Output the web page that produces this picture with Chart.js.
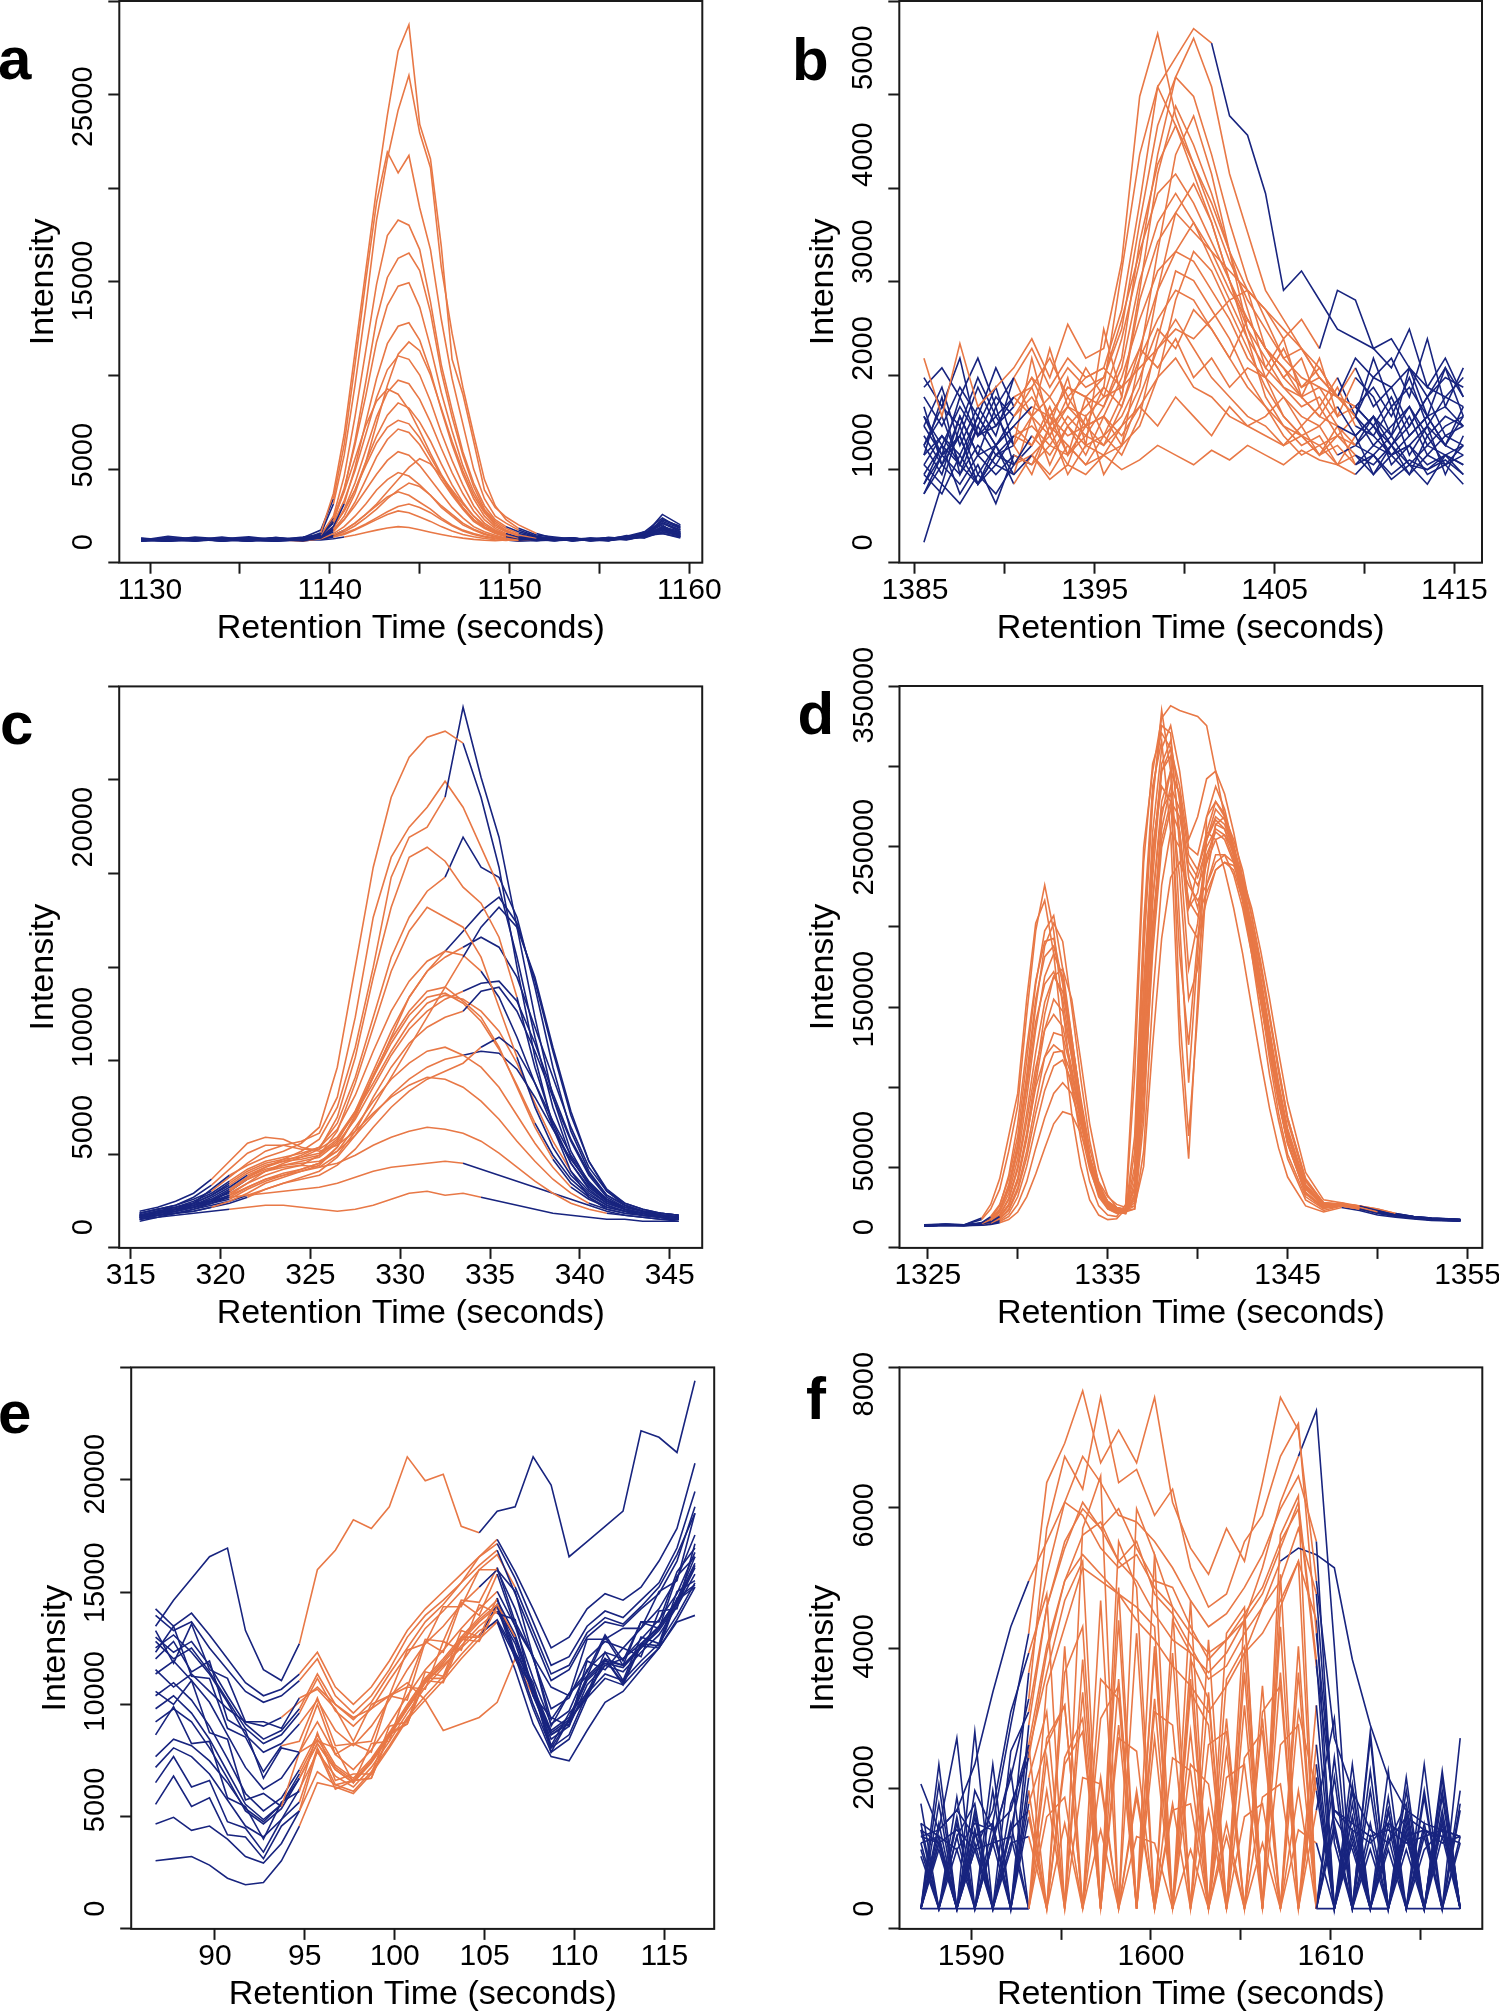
<!DOCTYPE html>
<html><head><meta charset="utf-8">
<script src="https://cdn.jsdelivr.net/npm/chart.js@4/dist/chart.umd.min.js"></script>
<style>
html,body{margin:0;padding:0;background:#fff;overflow:hidden;}
body{width:1499px;height:2014px;position:relative;}
canvas{position:absolute;}
.lbl{position:absolute;font-family:"Liberation Sans",Arial,sans-serif;font-weight:bold;font-size:60px;line-height:60px;color:#000;z-index:5;}
</style></head><body>
<div class="lbl" style="left:-2px;top:28.7px">a</div>
<div class="lbl" style="left:792px;top:30.2px">b</div>
<div class="lbl" style="left:0px;top:694.2px">c</div>
<div class="lbl" style="left:797.6px;top:684.2px">d</div>
<div class="lbl" style="left:-2px;top:1383.2px">e</div>
<div class="lbl" style="left:806px;top:1368.7px">f</div>
<script>
// ---------------- DATA ----------------
const X_TITLE = 'Retention Time (seconds)';
const Y_TITLE = 'Intensity';

// Panel a
const A_X = [1129.5,1131,1132.5,1134,1135.5,1137,1138.5,1139.5,1140.2,1140.8,1141.4,1142,1142.6,1143.2,1143.8,1144.4,1145,1145.6,1146.2,1146.8,1147.4,1148,1148.6,1149.2,1149.8,1150.5,1151.5,1152.5,1153.5,1154.5,1155.5,1156.5,1157.5,1158.5,1159.5];
const A_TRACES = [
[120,340,180,150,250,100,160,550,2800,6200,10900,15600,20300,24500,28200,29700,24000,22000,17000,10500,8500,5800,3000,2000,1450,1000,500,220,150,200,240,280,380,700,500],
[200,150,260,90,170,230,120,480,2200,5000,9000,13500,18500,22000,24800,26800,23500,21500,15800,12000,8900,6200,3600,2100,1300,800,420,300,180,90,210,350,260,800,450],
[90,220,140,300,110,190,260,700,2500,5600,10200,15000,19500,22400,21200,22200,19200,16800,12800,9400,6800,4200,2500,1500,1100,700,350,220,260,150,90,300,520,1200,800],
[250,120,300,180,90,260,150,420,1500,3800,7200,11000,14800,17600,18500,18200,16800,13800,10200,7600,5200,3400,2100,1300,900,600,320,180,90,240,160,380,300,600,400],
[130,260,80,200,310,150,90,350,1200,3000,5800,9200,12800,15200,16300,16600,15600,13200,9800,7200,5000,3200,1900,1200,800,500,300,150,240,120,280,200,450,1100,700],
[180,90,240,130,200,80,260,400,1400,3100,5600,8400,11500,13600,14700,14900,13500,11200,8600,6400,4400,2900,1800,1100,700,420,250,180,100,220,150,260,500,800,350],
[60,180,120,260,90,210,140,300,900,2200,4300,6900,9400,11400,12400,12600,11600,9800,7600,5600,3900,2500,1500,900,600,380,200,140,210,100,180,300,280,1300,900],
[220,110,190,80,240,130,300,450,1100,2400,4100,6200,8300,9900,10700,10500,9600,8100,6300,4700,3300,2100,1300,800,500,300,180,240,120,200,90,350,600,500,300],
[100,240,150,200,70,280,90,250,800,1900,3400,5300,7200,8600,9300,9100,8200,6900,5400,4000,2800,1800,1100,700,450,280,150,90,200,130,250,180,400,1600,1000],
[160,70,210,120,180,100,220,350,900,1800,3000,4600,6100,7300,8000,7700,6900,5800,4500,3300,2300,1500,900,600,400,250,130,200,90,160,220,140,350,700,450],
[80,190,100,230,140,60,170,260,600,1300,2300,3600,4900,5900,6500,6300,5600,4600,3600,2700,1900,1200,800,500,320,200,100,160,230,90,140,260,300,900,600],
[200,130,80,170,90,230,120,300,700,1300,2100,3000,3900,4700,5200,5000,4400,3600,2800,2000,1400,900,600,400,250,150,210,100,170,240,110,200,380,500,250],
[110,60,180,90,200,150,80,200,500,900,1500,2200,3000,3600,4000,3800,3300,2700,2000,1500,1000,700,450,300,200,120,180,90,150,200,260,180,600,1400,800],
[170,220,100,140,70,190,130,250,400,700,1100,1600,2100,2600,2900,2700,2300,1900,1400,1000,700,500,350,250,150,100,160,220,110,140,90,240,300,800,500],
[90,150,230,70,160,110,200,180,300,450,700,1000,1300,1600,1800,1700,1450,1200,900,650,450,320,220,150,100,180,90,130,200,80,170,210,460,1000,300],
[140,80,120,200,100,60,150,130,200,300,420,560,700,820,900,850,720,580,450,330,240,170,120,90,140,70,110,180,90,150,120,300,250,600,350],
[150,90,200,110,180,260,140,320,900,1800,3000,4400,5700,6600,7000,6800,6000,4900,3800,2800,2000,1300,850,550,350,220,140,200,100,160,230,300,500,1100,700],
[90,200,130,170,240,100,190,280,700,1500,2800,4600,6800,9000,10800,11500,11000,9600,7700,5800,4100,2700,1700,1000,650,400,220,150,250,120,190,280,400,900,500],
[210,140,90,230,120,180,70,220,400,700,1100,1600,2200,2900,3600,4300,4800,4500,3800,3000,2200,1500,1000,650,420,260,150,230,110,200,140,250,420,1300,900],
[120,240,170,80,210,150,230,190,350,600,950,1400,1900,2500,3000,3400,3200,2700,2100,1600,1100,750,500,330,220,150,100,180,240,130,200,160,350,700,400],
[180,110,250,140,90,200,160,400,1300,2900,4800,6700,8100,8800,8500,7600,6400,5100,3900,2900,2000,1300,850,550,350,230,140,200,90,170,240,190,300,800,550],
[100,170,90,210,130,240,110,200,320,500,750,1050,1400,1750,2050,2200,2000,1700,1300,950,650,450,300,200,150,110,170,90,200,130,160,220,380,1100,600]
];
const A_START = [1139.5,1140.2,1140.2,1139.5,1140.2,1140.2,1140.8,1140.2,1140.2,1139.5,1140.2,1140.2,1137,1140.2,1140.2,1140.8,1140.2,1140.2,1140.8,1140.2,1139.5,1140.2];
const A_END = [1151.5,1150.5,1150.5,1149.8,1150.5,1151.5,1150.5,1149.8,1150.5,1150.5,1149.8,1150.5,1150.5,1151.5,1150.5,1149.8,1150.5,1151.5,1150.5,1149.8,1150.5,1150.5];
const A_XLAB = [1130,1140,1150,1160];
const A_YLAB = [0,5000,15000,25000];

// Panel b
const B_X = [1385.5,1386.5,1387.5,1388.5,1389.5,1390.5,1391.5,1392.5,1393.5,1394.5,1395.5,1396.5,1397.5,1398.5,1399.5,1400.5,1401.5,1402.5,1403.5,1404.5,1405.5,1406.5,1407.5,1408.5,1409.5,1410.5,1411.5,1412.5,1413.5,1414.5,1415.5];
const B_TRACES = [
[1900,1300,2050,1400,1600,1800,2100,1700,2250,1900,2000,2900,4600,5250,4400,3900,3400,2900,2500,2200,1900,1700,1600,1500,1300,1700,1900,1500,2100,1400,1800],
[1000,1400,1200,1700,1300,1500,1600,1900,1500,1700,1800,2400,3500,4700,5000,5300,5150,4400,4200,3600,2600,2800,2500,2200,2100,2000,1800,2200,1600,1900,1500],
[800,1100,900,1300,1000,1200,1400,1300,1600,1500,1700,2200,3300,4300,4800,5200,4700,3800,3200,2600,2300,2000,1800,1500,1400,1200,1000,1300,900,1100,1000],
[1200,900,1500,1100,1300,1000,1300,1500,1200,1400,1600,2800,4000,4700,4300,3800,3300,2700,2200,1900,1600,1400,1500,1200,1100,1300,1100,1400,1000,1200,1300],
[600,900,700,1000,800,1100,1200,1000,1300,1100,1400,1900,3100,3900,4300,3900,3500,3000,2600,2000,1700,1500,1300,1200,1000,900,1100,800,1000,900,700],
[1500,1200,1600,1300,1800,1400,1700,1500,1800,1600,1700,2300,3000,3600,3800,3500,3100,2700,2300,2000,1800,1600,1700,1500,1400,1600,1300,1700,1200,1500,1400],
[700,1000,800,600,900,800,1100,900,1200,1000,1100,1500,2500,3100,3400,3200,3000,2800,2600,2400,2200,2000,1700,1500,1300,1100,900,1000,800,900,1000],
[1100,800,1300,900,1000,1200,1000,1300,1100,1200,1300,1700,2300,2800,3000,2900,2600,2300,1900,1700,1500,1300,1200,1400,1100,1300,1000,1200,1500,1100,1200],
[500,800,600,900,700,900,800,1000,900,1100,1000,1400,1900,2300,2600,2500,2200,1900,1600,1400,1200,1100,1000,1100,900,800,1000,700,900,800,600],
[900,1100,800,1300,1000,1300,1500,1200,1400,1300,1500,1600,1800,2000,2200,2100,2300,2500,2600,2400,2100,2300,2000,2600,2500,2000,2100,1800,1600,1500,1700],
[1300,1000,1400,1100,1200,1500,1300,1100,1400,1200,1300,1100,1400,1200,1500,1300,1100,1400,1200,1300,1500,1200,1400,1100,1300,1000,1200,1400,1100,1300,1200],
[700,500,900,600,800,700,900,650,800,700,900,750,850,1000,900,800,950,850,1000,900,800,950,850,800,700,900,650,800,750,850,700],
[1600,1800,1500,1900,1400,1700,2000,1600,1900,1700,1800,1600,2000,1800,2100,1700,1900,1600,1800,1700,2000,1600,1800,1500,1900,1700,1600,1800,1500,1700,1600],
[0,600,400,700,500,800,900,700,1000,800,900,1000,1500,2000,2300,2000,1700,1500,1300,1200,1000,1100,900,1000,800,900,700,850,750,900,800],
[1000,1300,800,1200,900,1100,1000,1300,900,1200,1000,1200,1400,1700,1900,1600,1500,1300,1200,1100,1000,1200,900,1100,1000,1200,900,1100,1300,1000,900],
[1300,900,1100,1600,1200,1400,1700,1300,1600,1500,1400,1800,2700,3300,3600,3300,2900,2500,2100,1800,1600,1500,1600,1300,1400,1200,1500,1100,1300,1400,1200],
[900,1500,700,1200,1600,1000,1900,1200,1700,1000,2200,1500,2600,3800,4500,4100,3600,3000,2400,1800,2100,1500,1900,1300,1700,1500,1100,1800,1300,1000,1400],
[1400,800,1100,600,1000,700,1300,800,1200,900,1300,1000,1900,3000,4000,4400,3800,3000,2200,1700,1300,1100,1200,900,1000,1300,800,1000,1200,700,1100],
[600,1000,500,800,400,900,800,1200,700,1000,900,1200,1600,2600,3400,3700,3300,2700,2100,1500,1200,1000,1100,800,900,700,1000,800,600,900,800],
[1200,1600,1000,1400,1100,1700,1300,2000,1400,1800,1500,2100,2900,4000,4800,4600,4000,3300,2700,2300,1900,2000,1700,1500,1800,1400,1600,1200,1500,1800,1300],
[800,600,1200,700,1000,600,900,1100,800,1300,700,1000,1200,1700,2500,3000,2800,2400,2000,1600,1300,1100,900,1200,800,1000,900,700,1100,800,1000],
[1700,1400,1900,1100,1500,1300,1600,1100,1500,1200,1600,1400,2000,2600,3000,3300,3000,2600,2300,2000,1700,1900,1400,1700,1300,1900,1400,1600,1300,1800,1500],
[500,900,1100,600,900,1000,700,1200,1000,800,1100,900,1300,2100,2800,2700,2400,2100,1700,1400,1100,900,1000,800,1100,700,900,1000,700,800,900],
[1000,700,1300,900,1400,800,1000,1400,900,1500,1100,1300,1700,2200,2000,2400,2200,1900,2300,2000,1800,1500,1300,1600,1200,1100,1400,900,1200,1000,1300]
];
const B_START = [1385.5,1390.5,1391.5,1390.5,1390.5,1390.5,1391.5,1390.5,1390.5,1390.5,1390.5,1391.5,1390.5,1390.5,1390.5,1390.5,1390.5,1390.5,1391.5,1390.5,1390.5,1390.5,1390.5,1391.5];
const B_END = [1409.5,1401.5,1409.5,1408.5,1409.5,1409.5,1409.5,1408.5,1409.5,1407.5,1409.5,1409.5,1408.5,1409.5,1409.5,1409.5,1409.5,1408.5,1409.5,1409.5,1409.5,1408.5,1409.5,1409.5];
const B_XLAB = [1385,1395,1405,1415];
const B_YLAB = [0,1000,2000,3000,4000,5000];

// Panel c
const C_X = [315.5,316.5,317.5,318.5,319.5,320.5,321.5,322.5,323.5,324.5,325.5,326.5,327.5,328.5,329.5,330.5,331.5,332.5,333.5,334.5,335.5,336.5,337.5,338.5,339.5,340.5,341.5,342.5,343.5,344.5,345.5];
const C_TRACES = [
[600,800,900,1200,1900,2600,3100,3500,3800,4200,5000,8000,13000,18000,21500,23500,24500,24800,24200,21500,18000,13000,8500,5000,2800,1500,900,700,600,500,400],
[500,700,800,1000,1300,1800,2500,3000,3400,3800,4400,6000,9000,13000,17500,19500,20000,21500,26000,22500,19500,15000,10500,6500,3800,2200,1300,900,700,600,500],
[700,900,1100,1400,1800,2500,3200,3800,4100,4300,4700,6500,10500,15500,18500,20000,21000,22300,21000,19000,17000,13500,9500,6000,3500,2100,1300,1000,800,700,600],
[400,600,700,900,1200,1600,2200,2800,3200,3500,3900,5500,8500,12500,16000,18500,19000,18300,17000,16200,14500,11500,8000,5200,3200,1900,1200,900,700,500,400],
[600,700,900,1100,1500,2000,2600,3000,3300,3600,4000,5200,7500,10500,13500,15500,16800,17500,19500,18000,17500,15500,12000,8000,4800,2800,1600,1100,800,700,600],
[500,800,900,1100,1400,1700,2200,2600,2900,3100,3600,4800,7200,10000,12800,14800,16000,15500,15000,13500,11000,8500,6000,4000,2600,1700,1100,800,600,500,400],
[700,900,1000,1200,1300,1600,2000,2400,2600,2900,3200,4000,5500,7500,9500,11500,12800,13500,14000,14500,14000,12500,10000,7500,5000,3000,1800,1200,900,700,600],
[400,600,700,800,1000,1300,1700,2200,2500,2800,3100,4000,5600,7600,9400,10800,11800,12000,11300,10500,9000,7000,5000,3400,2200,1500,1000,800,600,500,400],
[500,700,800,1000,1200,1400,1900,2300,2600,2800,3000,3600,4800,6500,8000,9200,10000,10500,10800,11800,12000,10800,8800,6500,4300,2600,1500,1000,800,600,500],
[600,800,900,1000,1200,1500,2000,2400,2700,2900,3200,3800,5000,6300,7400,8200,8800,9000,8600,8000,7000,5600,4200,3000,2000,1400,1000,800,600,500,400],
[400,500,700,800,1000,1200,1500,1900,2200,2400,2600,3100,3900,5000,6000,6800,7400,7800,8200,9000,9500,8800,7200,5300,3600,2300,1400,900,700,500,400],
[800,1000,1300,1700,2400,3300,4200,4500,4400,4000,3800,4100,4800,5700,6500,7100,7500,7400,7000,6300,5400,4300,3300,2400,1700,1200,900,700,600,500,400],
[500,600,800,1000,1300,1800,2400,2800,3000,3100,3000,3200,3600,4100,4500,4800,5000,4900,4700,4300,3700,3000,2300,1700,1200,900,700,600,500,400,300],
[300,500,600,700,800,900,1000,1100,1100,1000,900,800,900,1100,1400,1700,1800,1600,1700,1500,1300,1100,900,700,600,500,400,400,300,300,300],
[600,700,900,1100,1300,1500,1600,1700,1800,1900,2000,2200,2500,2800,3000,3100,3200,3300,3200,2900,2600,2300,2000,1700,1400,1100,800,600,500,400,400],
[500,600,700,900,1100,1300,1600,1900,2200,2500,2800,3500,4600,6000,7500,9000,10500,12000,13500,15000,16000,15000,12500,9000,5800,3300,1800,1100,800,600,500],
[600,800,1000,1300,1700,2300,2900,3300,3500,3700,4000,4900,6600,8800,10800,12300,13300,13800,13600,12800,11500,9500,7200,5000,3200,2000,1300,900,700,600,500],
[500,700,900,1200,1600,2100,2700,3100,3300,3400,3600,4300,5800,7800,9800,11500,12800,13800,14800,15800,16500,15200,12300,8800,5600,3300,1900,1200,900,700,600],
[400,600,800,1000,1300,1800,2400,2800,3100,3300,3500,4200,5400,7000,8600,9900,10800,11400,11800,12200,12300,11300,9200,6700,4400,2700,1600,1100,800,600,500],
[700,900,1100,1500,2100,2900,3700,4100,4100,3900,3900,4500,5800,7500,9200,10600,11500,11700,11200,10300,8900,7100,5200,3600,2400,1600,1100,800,700,600,500],
[500,700,900,1100,1400,1900,2500,2900,3100,3200,3300,3800,4600,5600,6600,7400,8000,8400,8600,8800,8700,7900,6500,4900,3400,2200,1400,1000,800,600,500],
[600,800,1000,1200,1600,2200,2800,3200,3400,3500,3700,4400,5700,7200,8800,10200,11200,11600,11400,10800,9800,8200,6200,4300,2800,1800,1200,900,700,600,500]
];
const C_START = [320.5,320.5,319.5,320.5,321.5,320.5,320.5,319.5,320.5,320.5,321.5,319.5,320.5,320.5,320.5,321.5,320.5,320.5,321.5,319.5,320.5,320.5];
const C_END = [333.5,332.5,335.5,336.5,332.5,336.5,333.5,338.5,333.5,339.5,334.5,340.5,341.5,334.5,333.5,333.5,334.5,332.5,333.5,337.5,333.5,339.5];
const C_XLAB = [315,320,325,330,335,340,345];
const C_YLAB = [0,5000,10000,20000];

// Panel d
const D_X = [1324.8,1326,1327,1328,1328.5,1329,1329.5,1330,1330.5,1331,1331.5,1332,1332.5,1333,1333.5,1334,1334.5,1335,1335.5,1336,1336.5,1337,1337.5,1338,1338.5,1339,1339.5,1340,1340.5,1341,1341.5,1342,1342.5,1343,1343.5,1344,1344.5,1345,1346,1347,1348,1349,1350,1351,1352,1353,1354.6];
const D_TRACES = [
[1500,2000,1500,5000,12000,25000,50000,80000,140000,195000,225000,195000,145000,95000,58000,30000,14000,8000,7000,15000,120000,250000,300000,335000,343000,340000,338000,336000,330000,300000,270000,245000,215000,180000,140000,100000,70000,45000,18000,11000,14000,12000,9000,7000,6000,5000,4500],
[1200,1800,1200,3000,7000,15000,32000,60000,110000,160000,195000,205000,170000,125000,82000,46000,22000,12000,9000,10000,60000,200000,290000,320000,260000,120000,45000,150000,270000,290000,275000,250000,220000,185000,150000,110000,75000,48000,20000,12000,16000,13000,10000,7500,6000,5000,4000],
[1000,1500,1300,2500,5000,11000,25000,50000,95000,145000,185000,200000,188000,145000,98000,57000,29000,15000,10000,9000,30000,150000,260000,315000,330000,300000,255000,270000,295000,300000,285000,260000,230000,195000,160000,120000,85000,55000,22000,13000,15000,14000,11000,8000,6500,5000,4500],
[1300,1700,1400,2200,4500,10000,22000,45000,85000,130000,165000,180000,165000,125000,83000,47000,25000,14000,11000,10000,25000,120000,230000,300000,310000,200000,95000,180000,260000,280000,270000,250000,225000,195000,160000,125000,90000,60000,25000,14000,15000,13000,10000,8000,6500,5500,4800],
[900,1400,1200,2000,3500,7000,15000,32000,62000,100000,140000,165000,170000,150000,110000,68000,38000,21000,13000,11000,12000,70000,190000,270000,300000,285000,230000,210000,240000,265000,270000,255000,235000,205000,175000,140000,105000,72000,32000,16000,15000,14000,12000,9000,7000,6000,5000],
[1100,1600,1300,1900,3200,6500,14000,30000,58000,95000,130000,150000,142000,112000,77000,46000,25000,15000,12000,11000,40000,160000,250000,290000,280000,180000,120000,190000,245000,260000,255000,240000,215000,185000,150000,115000,82000,55000,22000,13000,14000,12000,10000,8000,6000,5000,4500],
[1000,1500,1300,1800,2800,5500,12000,26000,50000,82000,112000,128000,126000,102000,72000,43000,24000,15000,12000,10000,20000,110000,215000,275000,285000,230000,150000,170000,225000,245000,245000,232000,210000,180000,148000,115000,83000,56000,23000,13000,14000,13000,10000,7800,6200,5200,4600],
[900,1300,1100,1600,2400,4500,9000,20000,40000,66000,90000,106000,110000,96000,70000,43000,25000,16000,12000,11000,14000,80000,180000,250000,275000,260000,200000,190000,215000,235000,240000,235000,215000,190000,158000,125000,92000,63000,27000,15000,15000,13000,11000,8500,6500,5500,4800],
[1000,1400,1200,1500,2100,3800,7000,15000,30000,52000,72000,88000,95000,88000,68000,44000,27000,17000,12000,10000,12000,50000,150000,225000,260000,250000,215000,205000,220000,235000,240000,238000,225000,200000,170000,138000,104000,72000,31000,16000,15000,14000,11000,8500,7000,5800,5000],
[1400,1900,1500,6000,15000,32000,60000,88000,150000,200000,215000,180000,125000,75000,40000,18000,8000,5000,5500,12000,100000,240000,305000,325000,315000,260000,210000,235000,260000,255000,235000,210000,180000,145000,110000,78000,52000,33000,14000,10000,13000,11000,8000,6500,5500,4500,4000],
[800,1200,1000,1300,1800,3000,5000,10000,20000,35000,52000,68000,76000,74000,62000,45000,30000,20000,15000,13000,14000,40000,120000,190000,230000,240000,225000,215000,225000,240000,245000,240000,230000,210000,182000,150000,115000,82000,36000,18000,16000,14000,12000,9000,7000,6000,5200],
[1200,1700,1300,2400,5500,12000,28000,55000,100000,150000,178000,185000,162000,118000,76000,42000,22000,13000,10000,9500,35000,180000,280000,340000,300000,140000,60000,140000,230000,265000,262000,245000,220000,190000,155000,120000,85000,57000,23000,13000,14000,12000,9500,7500,6000,5000,4300],
[1100,1500,1300,2100,4000,8500,19000,40000,75000,115000,148000,165000,155000,122000,85000,52000,29000,17000,13000,12000,26000,140000,245000,300000,315000,290000,250000,245000,270000,280000,272000,252000,228000,198000,165000,130000,95000,65000,28000,15000,15000,13000,10500,8000,6500,5500,4800],
[1000,1400,1200,1900,3500,7000,15000,32000,60000,92000,112000,120000,115000,92000,64000,38000,22000,14000,11000,10500,18000,100000,200000,262000,290000,275000,240000,230000,250000,262000,258000,242000,220000,192000,160000,126000,92000,63000,27000,15000,15000,13000,10500,8200,6600,5500,4800],
[1100,1600,1400,2300,5000,11000,26000,52000,92000,135000,160000,168000,150000,112000,74000,42000,22000,13000,10000,9000,22000,130000,240000,305000,320000,280000,210000,220000,255000,270000,265000,248000,224000,195000,162000,127000,92000,62000,26000,14000,15000,13000,10000,8000,6300,5300,4600],
[900,1300,1100,1700,2800,5500,11000,24000,46000,75000,100000,115000,116000,100000,74000,46000,27000,17000,13000,11500,16000,90000,190000,255000,280000,270000,235000,225000,240000,255000,258000,248000,230000,205000,172000,138000,102000,70000,30000,16000,15000,14000,11000,8500,6800,5600,4900],
[1200,1700,1400,2600,6000,14000,34000,68000,118000,162000,188000,190000,160000,115000,74000,40000,20000,12000,9500,10000,50000,190000,285000,330000,325000,250000,170000,200000,255000,275000,268000,248000,222000,190000,155000,118000,84000,56000,22000,12500,14000,12000,9500,7500,6000,5000,4300],
[1000,1500,1300,2000,3900,8000,18000,38000,70000,105000,130000,140000,132000,105000,72000,43000,24000,15000,12000,11000,20000,115000,215000,280000,300000,285000,245000,235000,255000,268000,262000,245000,222000,195000,162000,128000,93000,63000,27000,15000,15000,13000,10500,8200,6500,5500,4800]
];
const D_START = [1328,1328.5,1328,1328.5,1329,1328,1328.5,1329,1329,1328,1329,1328.5,1328,1328.5,1328.5,1329,1328,1328.5];
const D_END = [1349,1350,1349,1350,1351,1349,1350,1350,1351,1348,1351,1350,1349,1350,1350,1351,1349,1350];
const D_XLAB = [1325,1335,1345,1355];
const D_YLAB = [0,50000,150000,250000,350000];

// Panel e
const E_X = [86.7,87.7,88.7,89.7,90.7,91.7,92.7,93.7,94.7,95.7,96.7,97.7,98.7,99.7,100.7,101.7,102.7,103.7,104.7,105.7,106.7,107.7,108.7,109.7,110.7,111.7,112.7,113.7,114.7,115.7,116.7];
const E_TRACES = [
[13000,14200,15200,16200,16600,12800,11000,10500,12200,15600,16500,17900,17500,18500,20800,19700,20000,17600,17300,18300,18500,20800,19500,16200,16900,17600,18300,22000,21700,21000,24300],
[13500,12800,13200,12000,11000,10000,9500,9800,10500,11500,9800,9000,9800,11000,12500,13500,14200,15000,15800,16500,14500,12500,10500,11000,12500,13200,13000,13800,14500,16000,18500],
[12800,11300,13100,11000,10600,8600,8600,8300,9700,10100,9200,7700,9400,9800,11900,12200,13900,13900,15600,15600,14600,11600,10200,9800,12400,12400,12900,12900,14600,15100,18200],
[12000,12600,11800,10800,9500,8000,7200,7600,8500,9600,8200,7500,8400,9600,11000,12200,13000,14000,14800,15600,13800,11500,9200,9700,11500,12300,12000,12900,13800,15200,17200],
[11500,12300,10900,11400,8700,8200,6000,7400,7200,9400,7100,7600,7200,9800,9600,12300,11800,14100,13500,15400,13000,11600,8400,9900,10700,12500,11200,13200,12900,15300,16200],
[10800,11400,10500,9500,8000,6500,5500,6000,7200,8600,7100,6400,7300,8500,9800,11000,11900,12900,13800,14600,13000,10600,8500,9100,11000,11800,11500,12400,13300,14500,16400],
[10000,9400,10500,8100,7800,5000,5300,4700,7200,7700,7400,5800,7600,7700,10200,10100,12300,11900,14000,13600,13300,9800,8800,8400,11400,11000,12000,11600,13700,13800,16800],
[9200,9800,9000,7800,6300,4800,4100,4800,6200,7800,6500,5900,6800,8000,9300,10500,11400,12400,13300,14000,12500,10100,8100,8700,10600,11400,11200,12000,12900,14100,15800],
[8000,9300,7600,7700,5100,4700,3200,4900,5400,8100,5900,6200,6200,8400,8600,10900,10700,12800,12500,14300,11800,10400,7500,9000,9900,11800,10500,12500,12200,14600,15100],
[6500,7400,7000,6200,5000,3800,3300,4100,5500,7200,6100,5600,6500,7700,9000,10200,11100,12100,13000,13700,12200,9800,7800,8400,10300,11200,10900,11800,12600,13900,15400],
[4800,6100,4700,5100,3400,3300,2300,3800,4500,7300,5500,5900,6000,8100,8500,10500,10400,12400,12300,13900,11500,10100,7200,8700,9700,11500,10300,12100,12000,14200,14800],
[3900,4200,3600,3800,3200,2400,2100,3000,4500,6300,5700,5400,6300,7500,8800,9800,10700,11700,12600,13300,11800,9400,7400,8000,9900,10800,10500,11400,12200,13500,15000],
[2200,2300,2400,2000,1400,1100,1200,2200,3800,5800,5600,5300,6200,7400,8700,9600,10500,11500,12400,13200,11600,9200,7200,7800,9700,10600,10300,11200,12000,13300,14800],
[11000,10200,10800,10000,9200,8600,8400,8800,9500,10200,9400,8800,9200,9800,10400,9600,8200,8500,8800,9500,11500,9800,8000,8500,10000,11200,11500,12200,13000,14200,16200],
[12500,11800,12300,11200,9800,8500,7800,8200,9200,10800,9400,8700,9500,10800,12000,13200,14000,15000,16200,17000,15500,13800,12000,12500,13800,14500,14200,14800,16000,17500,20500],
[7000,7800,7500,6800,5800,4600,4000,4800,6000,7600,6400,5800,6800,8000,9200,10400,11200,12000,12800,13200,11000,8500,7000,6800,8200,9500,10000,11000,12000,13200,13500],
[13800,13000,13600,12600,11500,10400,9800,10100,10800,11800,10200,9400,10200,11400,12800,13800,14600,15400,16200,16800,15200,13200,11200,11600,13000,13700,13400,14200,15000,16600,19200],
[9800,10400,9600,8400,6900,5300,4500,5100,6400,8000,6600,6000,6900,8100,9400,10600,11500,12500,13400,14200,12600,10200,8200,8800,10700,11500,11200,12100,13000,14200,15900],
[5800,7000,5600,5900,4000,3700,2600,4100,4900,7400,5700,5900,6000,8000,8500,10600,10600,12500,12500,14000,11700,10100,7400,8700,9800,11500,10400,12200,12100,14300,14900],
[11800,13000,10700,10600,8300,7900,6300,7500,7700,9700,7500,7600,7700,9800,10200,12400,12300,14200,14100,15700,13200,11600,8700,9900,10900,12600,11400,13200,13200,15500,16600],
[8600,9200,8600,7400,6000,4500,3900,4600,6000,7600,6400,5800,6700,7900,9200,10400,11300,12300,13200,13900,12400,10000,8000,8600,10500,11300,11100,12000,12800,14000,15700],
[12300,11500,12000,10900,9600,8300,7600,8000,9000,10600,9100,8400,9200,10500,11700,12900,13700,14600,15600,16300,14800,12800,10800,11200,12700,13400,13100,13900,14800,16300,18200]
];
const E_START = [94.7,94.7,94.7,94.7,94.7,94.7,93.7,94.7,94.7,94.7,94.7,94.7,94.7,93.7,94.7,94.7,94.7,94.7,94.7,93.7,94.7,94.7];
const E_END = [104.7,105.7,105.7,104.7,105.7,105.7,105.7,106.7,105.7,105.7,105.7,104.7,105.7,107.7,105.7,105.7,105.7,105.7,104.7,105.7,105.7,106.7];
const E_XLAB = [90,95,100,105,110,115];
const E_YLAB = [0,5000,10000,15000,20000];

// Panel f
const F_X = [1587.2,1588.2,1589.2,1590.2,1591.2,1592.2,1593.2,1594.2,1595.2,1596.2,1597.2,1598.2,1599.2,1600.2,1601.2,1602.2,1603.2,1604.2,1605.2,1606.2,1607.2,1608.2,1609.2,1610.2,1611.2,1612.2,1613.2,1614.2,1615.2,1616.2,1617.2];
const F_TRACES = [
[1900,1200,1500,1100,1300,2800,4200,6500,7100,7900,6800,7300,6800,7800,6200,5500,5100,5800,5300,6500,7800,7300,5000,2600,1800,1200,1000,1400,1200,1100,1000],
[1000,0,1700,0,1100,2000,3200,5800,6900,6400,7800,6500,6700,6000,6400,5200,4600,4800,5600,6000,6900,7400,4200,1400,900,0,1500,0,1100,0,1100],
[0,1300,0,2700,0,900,3600,5100,6200,6900,6500,6000,5900,5600,5200,4700,4300,4500,4900,5400,6100,6600,5600,1000,0,1800,0,1300,0,2000,0],
[1200,0,900,0,1800,0,2800,4600,5600,6100,5800,6100,5500,5000,4900,4300,3800,4100,4400,4800,5500,6200,3800,0,2200,0,1100,0,1700,0,2600],
[0,900,0,1400,0,1600,2300,3900,5000,5700,5900,5300,5600,4800,4500,4000,3500,3700,4200,4600,5000,5800,4800,1200,0,900,0,2000,0,1400,0],
[1100,1000,1200,900,1000,1100,0,3400,4300,5200,5000,4800,4600,4300,0,3800,3200,0,3900,4200,4700,5300,0,1500,1200,1000,1300,1100,1200,1000,1100],
[0,1600,0,0,2200,0,1800,0,4000,0,4700,0,4200,0,3900,0,3300,0,3600,0,4300,0,3100,0,1000,0,2100,0,0,1300,0],
[900,0,0,1200,0,0,2000,3000,0,3800,0,4400,0,4000,0,3500,0,2900,0,3400,0,4000,0,2300,0,0,1500,0,1800,0,0],
[0,0,1100,0,1000,2100,0,2600,3100,0,3500,3200,0,3000,2800,0,2500,2700,0,3000,3400,0,2200,0,1800,0,0,1200,0,0,1600],
[1300,1100,0,900,0,1200,1500,0,2200,2700,0,2600,2400,0,2300,2100,0,2000,2200,0,2500,2800,0,2000,0,1300,0,900,0,1500,0],
[0,1000,0,1100,1300,0,0,1800,0,2000,1900,0,1700,0,1600,0,1500,0,1400,1600,0,1800,0,0,1100,0,900,0,2200,0,1000],
[800,0,1400,0,0,1000,1100,0,1300,0,1200,0,1100,1000,0,900,0,1100,0,1000,0,1200,1000,0,1400,0,0,1100,0,1300,0],
[1000,1100,900,1300,1200,1500,2500,4000,5000,5400,5100,4800,4400,4100,3700,3400,3000,3400,3900,4600,5300,5500,5400,5200,3800,2800,2000,1500,1300,1200,1100],
[0,1900,0,1200,0,2400,3000,4600,5500,6200,5800,5300,5000,4500,4100,3900,3600,3900,4400,5200,6200,6900,7600,4000,0,2600,0,1500,0,1700,0],
[1100,1200,1500,2200,3300,4300,5000,5600,6200,6000,5500,5200,5400,4900,4600,4200,3900,4100,4500,4900,5600,6100,3700,1500,1300,1100,1200,1000,1100,1200,1100],
[0,1200,2600,0,1300,0,0,2300,0,3300,0,2800,0,3200,0,2700,0,2400,0,2900,0,3600,0,1200,0,2700,0,1800,0,2100,0],
[1300,0,1100,1600,0,1200,2500,0,3600,4300,0,4900,0,5400,4600,0,4100,0,4500,0,5100,0,2000,0,1600,0,1300,0,900,1200,0],
[0,1100,0,900,1500,3000,3900,4800,0,5800,6600,0,6100,5400,0,4700,0,4200,4600,0,5700,6300,0,1300,0,2100,0,1100,0,1800,0],
[1200,1000,0,1500,0,0,1600,2500,3100,0,2900,3400,0,2600,0,2200,1900,0,2300,2700,0,3000,1800,0,1200,0,1700,0,1300,0,1500],
[0,2200,0,1000,0,1300,0,1400,1700,0,2000,0,1800,0,1500,1600,0,1300,0,1700,1900,0,1500,2900,0,1100,0,1400,0,2000,0],
[1600,0,1300,0,1000,0,2400,3600,4700,5300,0,5600,4900,0,4400,3900,0,3500,4000,0,4600,5300,4400,0,1900,0,1500,0,1200,0,1800],
[0,1000,0,1800,1200,0,1400,0,2300,2900,0,3500,0,3900,0,3300,2800,0,3100,0,3600,0,2500,0,1400,0,1000,1600,0,1100,0]
];
const F_START = [1593.2,1593.2,1593.2,1593.2,1593.2,1593.2,1593.2,1593.2,1593.2,1593.2,1593.2,1593.2,1593.2,1593.2,1593.2,1593.2,1593.2,1593.2,1593.2,1593.2,1593.2,1593.2];
const F_END = [1609.2,1609.2,1609.2,1609.2,1609.2,1609.2,1609.2,1609.2,1609.2,1609.2,1609.2,1609.2,1607.2,1608.2,1609.2,1609.2,1609.2,1609.2,1609.2,1609.2,1609.2,1609.2];
const F_XLAB = [1590,1600,1610];
const F_YLAB = [0,2000,4000,6000,8000];

// ---------------- CONFIG (scales, layout, style) ----------------
const BLUE = '#18247F';
const ORANGE = '#E87846';
const AXIS_COLOR = '#1a1a1a';
const FAMILY = '"Liberation Sans", Arial, Helvetica, sans-serif';

const PANELS = [
  {key:'a', xs:A_X, tr:A_TRACES, st:A_START, en:A_END, xl:A_XLAB, yl:A_YLAB, xstep:5, ystep:5000,
   xmin:1128.29, xmax:1160.72, ymin:-1171, ymax:31066,
   g:{left:0, top:0, w:750, h:660, L:119.3, T:1, R:702.3, B:562.7}},
  {key:'b', xs:B_X, tr:B_TRACES, st:B_START, en:B_END, xl:B_XLAB, yl:B_YLAB, xstep:5, ystep:1000,
   xmin:1384.13, xmax:1416.54, ymin:-210, ymax:5585,
   g:{left:760, top:0, w:780, h:660, L:899.3, T:1, R:1482, B:562.7}},
  {key:'c', xs:C_X, tr:C_TRACES, st:C_START, en:C_END, xl:C_XLAB, yl:C_YLAB, xstep:5, ystep:5000,
   xmin:314.36, xmax:346.81, ymin:-1035, ymax:27040,
   g:{left:0, top:640, w:750, h:705, L:119.2, T:686.4, R:702.2, B:1247.9}},
  {key:'d', xs:D_X, tr:D_TRACES, st:D_START, en:D_END, xl:D_XLAB, yl:D_YLAB, xstep:5, ystep:50000,
   xmin:1323.43, xmax:1355.82, ymin:-13618, ymax:356053,
   g:{left:760, top:640, w:780, h:705, L:899.5, T:686, R:1482.3, B:1247.9}},
  {key:'e', xs:E_X, tr:E_TRACES, st:E_START, en:E_END, xl:E_XLAB, yl:E_YLAB, xstep:5, ystep:5000,
   xmin:85.345, xmax:117.77, ymin:-935, ymax:24917,
   g:{left:0, top:1340, w:750, h:674, L:131.2, T:1367.4, R:714.2, B:1928.9}},
  {key:'f', xs:F_X, tr:F_TRACES, st:F_START, en:F_END, xl:F_XLAB, yl:F_YLAB, xstep:5, ystep:2000,
   xmin:1586.01, xmax:1618.43, ymin:-310, ymax:8257,
   g:{left:760, top:1340, w:780, h:674, L:899.5, T:1367.4, R:1482.3, B:1928.9}}
];

const TICK_LEN = 11, XTICK_SIZE = 30, YTICK_SIZE = 29, TITLE_SIZE = 34;

Chart.defaults.font.family = FAMILY;

// plot frame (R-style box)
const boxPlugin = {
  id: 'plotbox',
  afterDatasetsDraw(chart) {
    const a = chart.chartArea, c = chart.ctx;
    c.save();
    c.strokeStyle = AXIS_COLOR;
    c.lineWidth = 2;
    c.strokeRect(a.left, a.top, a.right - a.left, a.bottom - a.top);
    c.restore();
  }
};

// rotated y tick labels, placed through the chart's own y scale
const yLabelPlugin = {
  id: 'ylabels',
  afterDraw(chart, args, opts) {
    const s = chart.scales.y, c = chart.ctx;
    c.save();
    c.fillStyle = '#000';
    c.font = YTICK_SIZE + 'px ' + FAMILY;
    c.textAlign = 'center';
    c.textBaseline = 'middle';
    (opts.labels || []).forEach(v => {
      const y = s.getPixelForValue(v);
      c.save();
      c.translate(chart.chartArea.left - 35, y);
      c.rotate(-Math.PI / 2);
      c.fillText(String(v), 0, 0);
      c.restore();
    });
    c.restore();
  }
};

PANELS.forEach(p => {
  const g = p.g;
  const cv = document.createElement('canvas');
  cv.width = g.w; cv.height = g.h;
  cv.style.left = g.left + 'px'; cv.style.top = g.top + 'px';
  cv.style.width = g.w + 'px'; cv.style.height = g.h + 'px';
  document.body.appendChild(cv);

  const yW = g.L - g.left, padTop = g.T - g.top, padRight = g.left + g.w - g.R, xH = g.top + g.h - g.B;
  const xTitlePad = g.h - (g.B - g.top + 66) - TITLE_SIZE / 2;
  const yTitlePad = yW - 76 - TITLE_SIZE / 2;
  const xTickPad = 27.9 - TICK_LEN - 0.6 * XTICK_SIZE;

  const datasets = p.tr.map((ys, i) => {
    const s = p.st[i], e = p.en[i];
    return {
      data: p.xs.map((x, j) => ({x: x, y: ys[j]})),
      borderColor: BLUE,
      borderWidth: 1.6,
      pointRadius: 0,
      tension: 0,
      fill: false,
      segment: {
        borderColor: c => (c.p0.parsed.x >= s - 1e-6 && c.p1.parsed.x <= e + 1e-6) ? ORANGE : BLUE
      }
    };
  });

  const gridOpts = {display: true, drawOnChartArea: false, drawTicks: true, tickLength: TICK_LEN, tickWidth: 2, tickColor: AXIS_COLOR};

  new Chart(cv, {
    type: 'line',
    data: {datasets: datasets},
    options: {
      responsive: false,
      animation: false,
      devicePixelRatio: 1,
      events: [],
      layout: {padding: {left: 0, top: padTop, right: padRight, bottom: 0}},
      plugins: {legend: {display: false}, tooltip: {enabled: false}, ylabels: {labels: p.yl}},
      scales: {
        x: {
          type: 'linear', min: p.xmin, max: p.xmax,
          afterFit: s => { s.height = xH; s.paddingLeft = 0; s.paddingRight = 0; s.paddingTop = 0; s.paddingBottom = 0; },
          ticks: {
            stepSize: p.xstep, includeBounds: false, autoSkip: false, maxRotation: 0, minRotation: 0,
            padding: xTickPad, color: '#000', font: {size: XTICK_SIZE},
            callback: v => p.xl.indexOf(v) >= 0 ? String(v) : ''
          },
          grid: gridOpts,
          border: {display: false},
          title: {display: true, text: X_TITLE, color: '#000', font: {size: TITLE_SIZE, lineHeight: 1}, padding: {top: 0, bottom: xTitlePad}}
        },
        y: {
          type: 'linear', min: p.ymin, max: p.ymax,
          afterFit: s => { s.width = yW; s.paddingLeft = 0; s.paddingRight = 0; s.paddingTop = 0; s.paddingBottom = 0; },
          ticks: {
            stepSize: p.ystep, includeBounds: false, autoSkip: false, display: false
          },
          grid: gridOpts,
          border: {display: false},
          title: {display: true, text: Y_TITLE, color: '#000', font: {size: TITLE_SIZE, lineHeight: 1}, padding: {top: yTitlePad, bottom: 0}}
        }
      }
    },
    plugins: [boxPlugin, yLabelPlugin]
  });
});
</script>
</body></html>
